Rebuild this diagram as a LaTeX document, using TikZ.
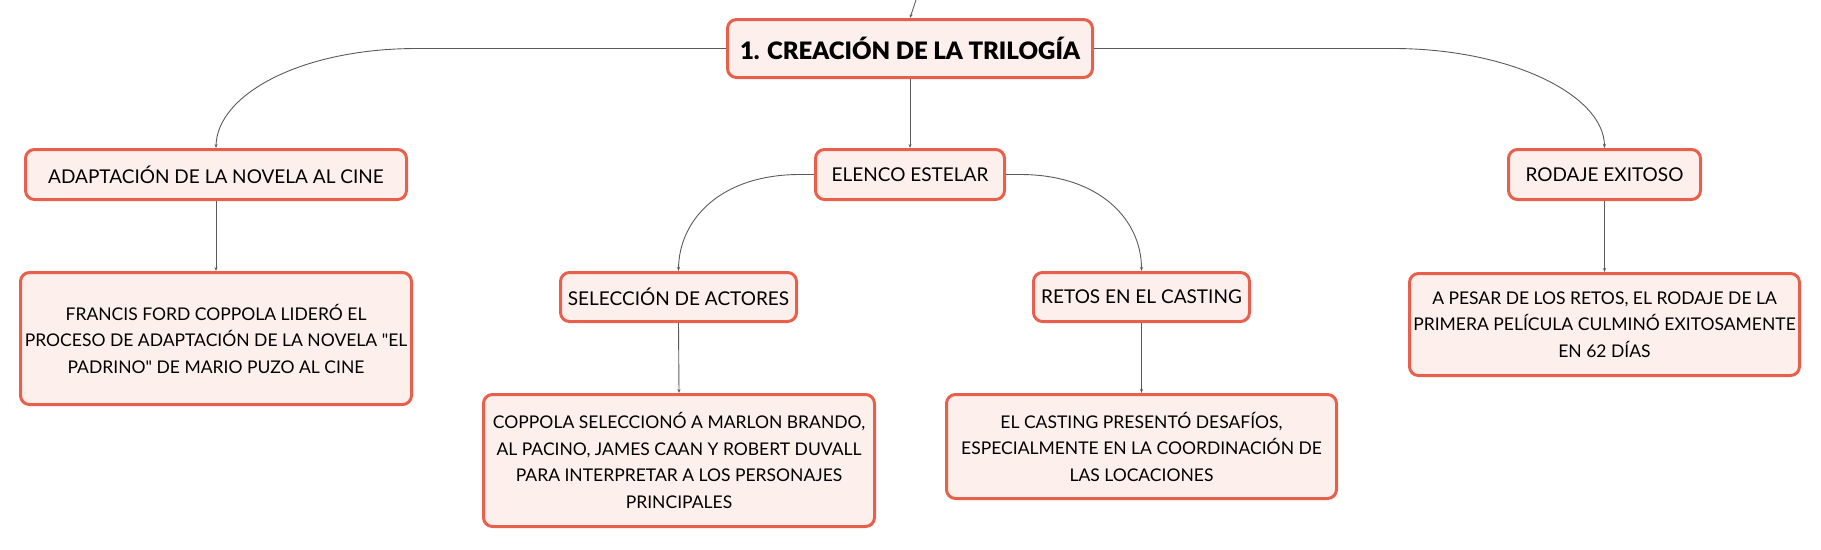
\documentclass[tikz,border=0pt]{standalone}
\usepackage{fontspec}
\setmainfont{Lato}[BoldFont={Lato Black}]
\newfontfamily\qfont{Lato}[Ligatures=ResetAll]
\usetikzlibrary{arrows.meta}
\definecolor{boxline}{HTML}{E8604C}
\definecolor{boxfill}{HTML}{FDF0EC}
\definecolor{conn}{HTML}{5A5A5A}
\newcommand{\dq}{{\qfont"}}
\tikzset{
  box/.style={draw=boxline, fill=boxfill, line width=3pt, rounded corners=9pt, align=center, inner sep=0pt, text=black},
  topic/.style={box, font=\fontsize{19}{23}\selectfont},
  rootbox/.style={box, font=\fontsize{24}{28}\selectfont\bfseries},
  leaf/.style={box, font=\fontsize{17.5}{26.5}\selectfont},
  link/.style={draw=conn, line width=0.9pt, -{Stealth[length=4pt,width=3pt]}}
}
\begin{document}
\begin{tikzpicture}[x=1pt,y=-1pt]
\useasboundingbox (0,0) rectangle (1821,549);
\node[rootbox, minimum width=365pt, minimum height=58pt] (root) at (910,48.5) {1. CREACIÓN DE LA TRILOGÍA};
\node[topic, minimum width=381pt, minimum height=50pt] (adapt) at (216,174.5) {ADAPTACIÓN DE LA NOVELA AL CINE};
\node[leaf, minimum width=391pt, minimum height=132pt] (francis) at (216,338.5) {FRANCIS FORD COPPOLA LIDERÓ EL\\PROCESO DE ADAPTACIÓN DE LA NOVELA \dq EL\\PADRINO\dq{} DE MARIO PUZO AL CINE};
\node[topic, minimum width=189pt, minimum height=50pt] (elenco) at (910,174.5) {ELENCO ESTELAR};
\node[topic, minimum width=236pt, minimum height=49pt] (selec) at (678.5,297) {SELECCIÓN DE ACTORES};
\node[leaf, minimum width=391pt, minimum height=132pt] (coppola) at (679,460.5) {COPPOLA SELECCIONÓ A MARLON BRANDO,\\AL PACINO, JAMES CAAN Y ROBERT DUVALL\\PARA INTERPRETAR A LOS PERSONAJES\\PRINCIPALES};
\node[topic, minimum width=216pt, minimum height=49pt] (retos) at (1141.5,297) {RETOS EN EL CASTING};
\node[leaf, minimum width=390pt, minimum height=104pt] (casting) at (1141.5,446.5) {EL CASTING PRESENTÓ DESAFÍOS,\\ESPECIALMENTE EN LA COORDINACIÓN DE\\LAS LOCACIONES};
\node[topic, minimum width=192pt, minimum height=50pt] (rodaje) at (1604.5,174.5) {RODAJE EXITOSO};
\node[leaf, minimum width=390pt, minimum height=102pt] (pesar) at (1604.5,324.5) {A PESAR DE LOS RETOS, EL RODAJE DE LA\\PRIMERA PELÍCULA CULMINÓ EXITOSAMENTE\\EN 62 DÍAS};
\coordinate (up) at (916,0);
\draw[link] (up) -- (root.north);
\draw[link] (root.west) -- (417,48.5) .. controls (300,48.5) and (217,95) .. (adapt.north);
\draw[link] (root.east) -- (1393,48.5) .. controls (1510,48.5) and (1604,95) .. (rodaje.north);
\draw[link] (root.south) -- (elenco.north);
\draw[link] (elenco.west) -- (800,174.5) .. controls (720,174.5) and (679,220) .. (selec.north);
\draw[link] (elenco.east) -- (1020,174.5) .. controls (1100,174.5) and (1141.5,220) .. (retos.north);
\draw[link] (adapt.south) -- (francis.north);
\draw[link] (selec.south) -- (coppola.north);
\draw[link] (retos.south) -- (casting.north);
\draw[link] (rodaje.south) -- (pesar.north);
\end{tikzpicture}
\end{document}
